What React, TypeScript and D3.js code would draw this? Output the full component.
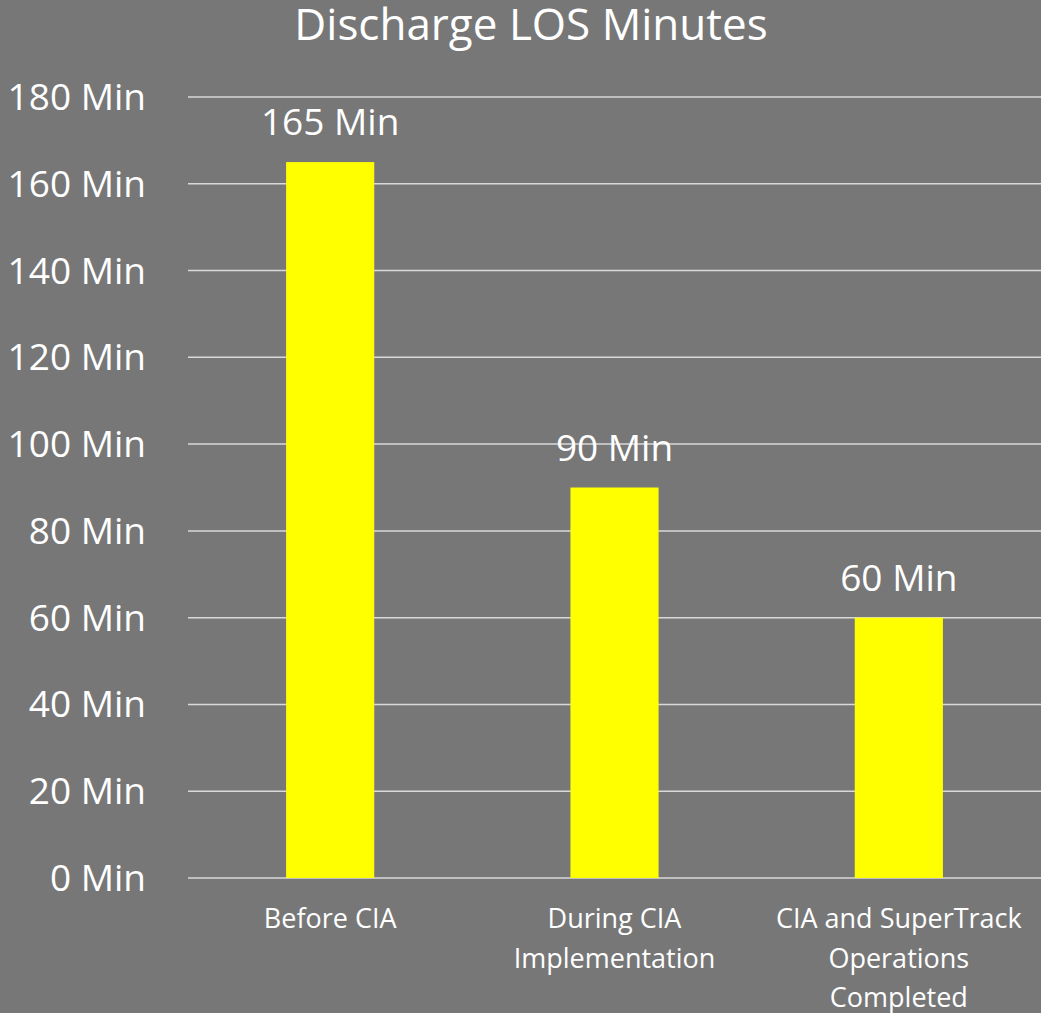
import React from "react";
import * as d3 from "d3";

const categories: string[][] = [
  ["Before CIA"],
  ["During CIA", "Implementation"],
  ["CIA and SuperTrack", "Operations", "Completed"],
];
const values: number[] = [165, 90, 60];
const yTicks: number[] = [0, 20, 40, 60, 80, 100, 120, 140, 160, 180];
const title = "Discharge LOS Minutes";

const W = 1041;
const H = 1013;
const FONT = "'Open Sans', sans-serif";

export default function App() {
  const left = 188;
  const right = 1041;
  const top = 97;
  const bottom = 878;
  const x = d3
    .scaleBand<number>()
    .domain(values.map((_, i) => i))
    .range([left, right])
    .paddingInner(0.69)
    .paddingOuter(0.345);
  const y = d3.scaleLinear().domain([0, 180]).range([bottom, top]);

  return (
    <div style={{ position: "absolute", left: 0, top: 0 }}>
      <svg width={W} height={H} style={{ display: "block" }}>
        <rect x={0} y={0} width={W} height={H} fill="#777777" />
        <text x={531} y={40} textAnchor="middle" fill="#ffffff" fontFamily={FONT} fontSize={44}>
          {title}
        </text>
        {yTicks.map((t) => (
          <g key={t}>
            <line x1={left} x2={right} y1={y(t)} y2={y(t)} stroke="#d9d9d9" strokeWidth={1.5} />
            <text x={146} y={y(t) + 13} textAnchor="end" fill="#ffffff" fontFamily={FONT} fontSize={37}>
              {`${t} Min`}
            </text>
          </g>
        ))}
        {values.map((v, i) => {
          const bx = x(i)!;
          const cx = bx + x.bandwidth() / 2;
          return (
            <g key={i}>
              <rect x={bx} y={y(v)} width={x.bandwidth()} height={bottom - y(v)} fill="#ffff00" />
              <text x={cx} y={y(v) - 27} textAnchor="middle" fill="#ffffff" fontFamily={FONT} fontSize={37}>
                {`${v} Min`}
              </text>
              {categories[i].map((line, j) => (
                <text
                  key={j}
                  x={cx}
                  y={bottom + 50 + j * 39.5}
                  textAnchor="middle"
                  fill="#ffffff"
                  fontFamily={FONT}
                  fontSize={27}
                >
                  {line}
                </text>
              ))}
            </g>
          );
        })}
      </svg>
    </div>
  );
}
